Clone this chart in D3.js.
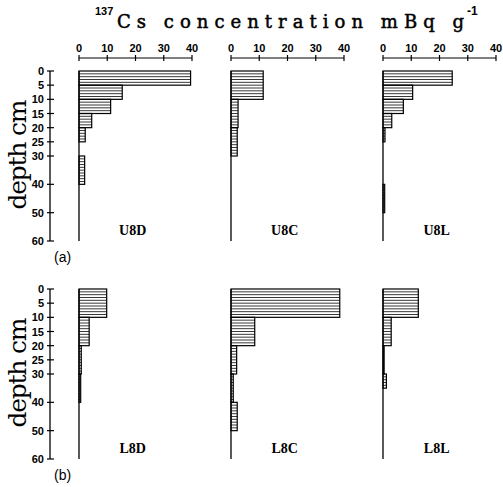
<!DOCTYPE html>
<html>
<head>
<meta charset="utf-8">
<script src="https://cdn.jsdelivr.net/npm/d3@7"></script>
<style>
  body { margin: 0; background: #fff; }
  svg { display: block; }
</style>
</head>
<body>
<svg id="chart" width="503" height="487"></svg>
<script>
// depth intervals [top cm, bottom cm, mBq/g]
var u8d = [[0,5,39.5],[5,10,15.3],[10,15,11.2],[15,20,4.5],[20,25,2.2],[30,40,2.0]];
var u8c = [[0,10,11.4],[10,20,2.5],[20,30,2.2]];
var u8l = [[0,5,24.5],[5,10,10.5],[10,15,7.2],[15,20,3.1],[20,25,0.7],[40,50,0.6]];
var l8d = [[0,10,9.8],[10,20,3.6],[20,30,0.8],[30,40,0.6]];
var l8c = [[0,10,38.5],[10,20,8.4],[20,30,2.0],[30,40,0.8],[40,50,2.2]];
var l8l = [[0,10,12.5],[10,20,2.9],[20,30,0.4],[30,35,1.2]];

var rowNames = ["(a)", "(b)"];
var siteNames = [["U8D","U8C","U8L"], ["L8D","L8C","L8L"]];
var siteData = [[u8d, u8c, u8l], [l8d, l8c, l8l]];
var depthTicks = [0,5,10,15,20,25,30,40,50,60];
var concTicks = [0,10,20,30,40];

var svg = d3.select("#chart");
var panelLeft = [79, 231, 383];
var rowTop = [71, 289];
var plotH = 170, plotW = 113;

var tickFont = "'Liberation Sans', Arial, sans-serif";
var serifFont = "'DejaVu Serif', 'Liberation Serif', serif";

// title
var title = svg.append("g");
title.append("text")
  .attr("x", 95).attr("y", 15)
  .attr("font-family", tickFont).attr("font-weight", "bold").attr("font-size", 11)
  .text("137");
title.append("text")
  .attr("x", 117).attr("y", 28)
  .attr("font-family", serifFont)
  .attr("font-size", 18)
  .attr("stroke", "#000").attr("stroke-width", 0.5)
  .attr("textLength", 347).attr("lengthAdjust", "spacing")
  .text("Cs concentration mBq g");
title.append("text")
  .attr("x", 467).attr("y", 15)
  .attr("font-family", tickFont).attr("font-weight", "bold").attr("font-size", 12)
  .text("-1");

rowNames.forEach(function(rn, r) {
  var y = d3.scaleLinear().domain([0, 60]).range([rowTop[r], rowTop[r] + plotH]);
  var g = svg.append("g");

  // depth axis
  g.append("line")
    .attr("x1", 50).attr("x2", 50)
    .attr("y1", y(0)).attr("y2", y(60))
    .attr("stroke", "#000").attr("stroke-width", 1.3);
  depthTicks.forEach(function(t) {
    g.append("line")
      .attr("x1", 47).attr("x2", 54)
      .attr("y1", y(t)).attr("y2", y(t))
      .attr("stroke", "#000").attr("stroke-width", 1.2);
    g.append("text")
      .attr("x", 44).attr("y", y(t) + 4)
      .attr("text-anchor", "end")
      .attr("font-family", tickFont).attr("font-weight", "bold").attr("font-size", 11)
      .text(t);
  });

  g.append("text")
    .attr("transform", "translate(26," + y(29.5) + ") rotate(-90)")
    .attr("text-anchor", "middle")
    .attr("font-family", serifFont)
    .attr("font-size", 25)
    .attr("textLength", 110).attr("lengthAdjust", "spacing")
    .text("depth cm");

  g.append("text")
    .attr("x", 54).attr("y", y(60) + 21)
    .attr("font-family", tickFont).attr("font-size", 14)
    .text(rn);

  panelLeft.forEach(function(left, c) {
    var x = d3.scaleLinear().domain([0, 40]).range([left, left + plotW]);
    var pg = g.append("g");

    // concentration axis only on the top row
    if (r === 0) {
      var axisY = 58;
      pg.append("line")
        .attr("x1", x(0)).attr("x2", x(40))
        .attr("y1", axisY).attr("y2", axisY)
        .attr("stroke", "#000").attr("stroke-width", 1.2);
      concTicks.forEach(function(t) {
        pg.append("line")
          .attr("x1", x(t)).attr("x2", x(t))
          .attr("y1", axisY - 3).attr("y2", axisY + 3)
          .attr("stroke", "#000").attr("stroke-width", 1.2);
        pg.append("text")
          .attr("x", x(t)).attr("y", 52)
          .attr("text-anchor", "middle")
          .attr("font-family", tickFont).attr("font-weight", "bold").attr("font-size", 11)
          .text(t);
      });
    }

    var bars = pg.selectAll("g.bar")
      .data(siteData[r][c])
      .enter().append("g")
      .attr("class", "bar");

    // hatch lines, one per cm
    bars.each(function(d) {
      d3.select(this).selectAll("line")
        .data(d3.range(d[0] + 1, d[1]))
        .enter().append("line")
        .attr("x1", x(0)).attr("x2", x(d[2]))
        .attr("y1", function(k) { return y(k); })
        .attr("y2", function(k) { return y(k); })
        .attr("stroke", "#222").attr("stroke-width", 0.9);
    });

    bars.append("rect")
      .attr("x", x(0))
      .attr("y", function(d) { return y(d[0]); })
      .attr("width", function(d) { return x(d[2]) - x(0); })
      .attr("height", function(d) { return y(d[1]) - y(d[0]); })
      .attr("fill", "none")
      .attr("stroke", "#000").attr("stroke-width", 1.2);

    // zero line down the panel
    pg.append("line")
      .attr("x1", x(0)).attr("x2", x(0))
      .attr("y1", y(0)).attr("y2", y(60))
      .attr("stroke", "#000").attr("stroke-width", 1.3);

    pg.append("text")
      .attr("x", x(19)).attr("y", y(58))
      .attr("text-anchor", "middle")
      .attr("font-family", "'Liberation Serif', 'DejaVu Serif', serif")
      .attr("font-weight", "bold").attr("font-size", 14)
      .text(siteNames[r][c]);
  });
});
</script>
</body>
</html>
